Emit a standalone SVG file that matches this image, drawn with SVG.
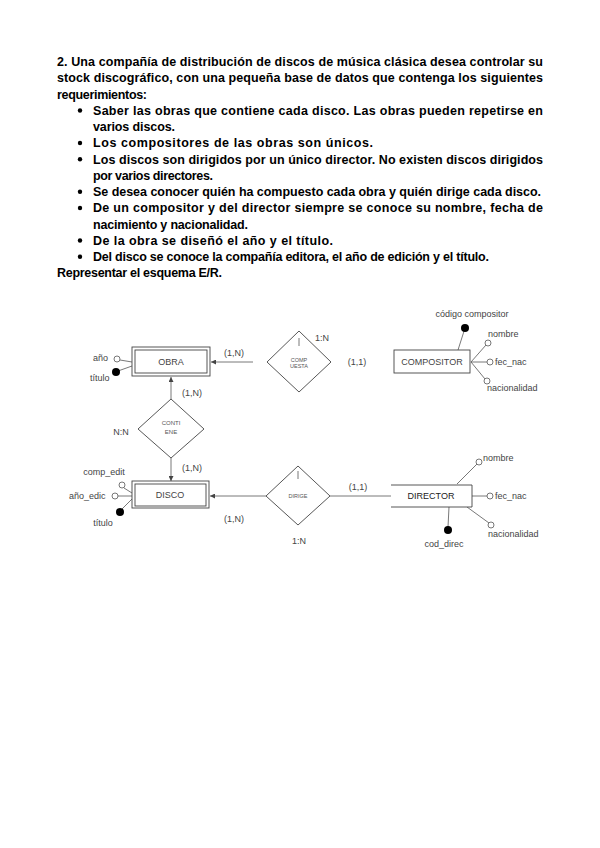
<svg xmlns="http://www.w3.org/2000/svg" width="600" height="848" viewBox="0 0 600 848">
<defs>
<style>
.t{font-family:"Liberation Sans",Arial,sans-serif;font-size:12.5px;font-weight:bold;fill:#000}
.l{font-family:"Liberation Sans",Arial,sans-serif;font-size:9px;fill:#444}
.e{font-family:"Liberation Sans",Arial,sans-serif;font-size:9px;fill:#444;text-anchor:middle}
.r{font-family:"Liberation Sans",Arial,sans-serif;font-size:5.5px;fill:#555;text-anchor:middle}
.c{text-anchor:middle}
.s{fill:#fff;stroke:#444;stroke-width:0.9}
.ln{stroke:#555;stroke-width:0.8;fill:none}
.op{fill:#fff;stroke:#555;stroke-width:0.8}
.k{fill:#000}
</style>
<marker id="ar" viewBox="0 0 6 6" refX="6" refY="3" markerWidth="5" markerHeight="5" markerUnits="userSpaceOnUse" orient="auto">
<path d="M0,0 L6,3 L0,6 z" fill="#444"/>
</marker>
</defs>
<rect width="600" height="848" fill="#fff"/>
<g id="enunciado">
<text class="t" x="57" y="66" textLength="486" lengthAdjust="spacing">2. Una compañía de distribución de discos de música clásica desea controlar su</text>
<text class="t" x="57" y="82.25" textLength="486" lengthAdjust="spacing">stock discográfico, con una pequeña base de datos que contenga los siguientes</text>
<text class="t" x="57" y="98.5" textLength="90" lengthAdjust="spacing">requerimientos:</text>
<circle class="k" cx="80" cy="110.5" r="2.2"/>
<text class="t" x="93" y="114.75" textLength="450" lengthAdjust="spacing">Saber las obras que contiene cada disco. Las obras pueden repetirse en</text>
<text class="t" x="93" y="131" textLength="82" lengthAdjust="spacing">varios discos.</text>
<circle class="k" cx="80" cy="143" r="2.2"/>
<text class="t" x="93" y="147.25" textLength="280" lengthAdjust="spacing">Los compositores de las obras son únicos.</text>
<circle class="k" cx="80" cy="159.25" r="2.2"/>
<text class="t" x="93" y="163.5" textLength="450" lengthAdjust="spacing">Los discos son dirigidos por un único director. No existen discos dirigidos</text>
<text class="t" x="93" y="179.75" textLength="120" lengthAdjust="spacing">por varios directores.</text>
<circle class="k" cx="80" cy="191.75" r="2.2"/>
<text class="t" x="93" y="196" textLength="448" lengthAdjust="spacing">Se desea conocer quién ha compuesto cada obra y quién dirige cada disco.</text>
<circle class="k" cx="80" cy="208" r="2.2"/>
<text class="t" x="93" y="212.25" textLength="450" lengthAdjust="spacing">De un compositor y del director siempre se conoce su nombre, fecha de</text>
<text class="t" x="93" y="228.5" textLength="155" lengthAdjust="spacing">nacimiento y nacionalidad.</text>
<circle class="k" cx="80" cy="240.5" r="2.2"/>
<text class="t" x="93" y="244.75" textLength="240" lengthAdjust="spacing">De la obra se diseñó el año y el título.</text>
<circle class="k" cx="80" cy="256.75" r="2.2"/>
<text class="t" x="93" y="261" textLength="396" lengthAdjust="spacing">Del disco se conoce la compañía editora, el año de edición y el título.</text>
<text class="t" x="57" y="277.25" textLength="165" lengthAdjust="spacing">Representar el esquema E/R.</text>
</g>
<g id="connectors">
<line class="ln" x1="253" y1="362" x2="211" y2="362" marker-end="url(#ar)"/>
<line class="ln" x1="171" y1="399" x2="171" y2="377" marker-end="url(#ar)"/>
<line class="ln" x1="171" y1="458" x2="171" y2="481" marker-end="url(#ar)"/>
<line class="ln" x1="266" y1="496" x2="210" y2="496" marker-end="url(#ar)"/>
<line class="ln" x1="330" y1="496" x2="391" y2="496"/>
<line class="ln" x1="120" y1="360" x2="132" y2="362"/>
<line class="ln" x1="118" y1="371" x2="132" y2="366"/>
<line class="ln" x1="465" y1="328" x2="458" y2="350"/>
<line class="ln" x1="471" y1="362" x2="486" y2="345"/>
<line class="ln" x1="471" y1="362" x2="487" y2="362"/>
<line class="ln" x1="471" y1="362" x2="485" y2="379"/>
<line class="ln" x1="124" y1="488" x2="132" y2="493"/>
<line class="ln" x1="118" y1="496" x2="132" y2="496"/>
<line class="ln" x1="121" y1="510" x2="132" y2="499"/>
<line class="ln" x1="457" y1="484" x2="477" y2="464"/>
<line class="ln" x1="472" y1="496" x2="487" y2="496"/>
<line class="ln" x1="467" y1="507" x2="489" y2="523"/>
<line class="ln" x1="449" y1="507" x2="448" y2="527"/>
</g>
<g id="obra">
<rect class="s" x="132" y="347" width="78" height="29"/>
<rect class="s" x="135" y="350" width="72" height="23"/>
<text class="e" x="171" y="365">OBRA</text>
</g>
<g id="obra-anio">
<circle class="op" cx="117" cy="359" r="3"/>
<text class="l" x="93" y="361">año</text>
</g>
<g id="obra-titulo">
<circle class="k" cx="116" cy="372" r="4"/>
<text class="l" x="90" y="381">título</text>
</g>
<g id="compuesta">
<polygon class="s" points="299,331 331,362 299,392 267,362"/>
<line class="ln" x1="299" y1="338" x2="299" y2="346"/>
<text class="r" x="299" y="362">COMP</text>
<text class="r" x="299" y="368">UESTA</text>
</g>
<g id="labels">
<text class="l c" x="234" y="356">(1,N)</text>
<text class="l c" x="322" y="341">1:N</text>
<text class="l c" x="357" y="365">(1,1)</text>
<text class="l c" x="192" y="396">(1,N)</text>
<text class="l c" x="192" y="471">(1,N)</text>
<text class="l c" x="121" y="435">N:N</text>
<text class="l c" x="234" y="522">(1,N)</text>
<text class="l c" x="299" y="544">1:N</text>
<text class="l c" x="358" y="490">(1,1)</text>
</g>
<g id="compositor">
<rect class="s" x="394" y="350" width="76" height="23"/>
<text class="e" x="432" y="365">COMPOSITOR</text>
</g>
<g id="compositor-codigo">
<circle class="k" cx="465" cy="328" r="4"/>
<text class="l c" x="472" y="317">código compositor</text>
</g>
<g id="compositor-nombre">
<text class="l" x="488" y="337">nombre</text>
<circle class="op" cx="488" cy="343" r="3"/>
</g>
<g id="compositor-fec">
<circle class="op" cx="490" cy="362" r="3"/>
<text class="l" x="495" y="365">fec_nac</text>
</g>
<g id="compositor-nac">
<text class="l" x="487" y="391">nacionalidad</text>
<circle class="op" cx="487" cy="381" r="3"/>
</g>
<g id="contiene">
<polygon class="s" points="171,399 204,429 171,458 138,429"/>
<text class="r" x="171" y="425" style="font-size:6px">CONTI</text>
<text class="r" x="171" y="434" style="font-size:6px">ENE</text>
</g>
<g id="disco">
<rect class="s" x="132" y="481" width="77" height="27"/>
<rect class="s" x="135" y="484" width="71" height="22"/>
<text class="e" x="170" y="498">DISCO</text>
</g>
<g id="disco-comp">
<circle class="op" cx="122" cy="485" r="3"/>
<text class="l c" x="104" y="475">comp_edit</text>
</g>
<g id="disco-anio">
<circle class="op" cx="115" cy="496" r="3"/>
<text class="l" x="69" y="499">año_edic</text>
</g>
<g id="disco-titulo">
<circle class="k" cx="120" cy="512" r="4"/>
<text class="l c" x="103" y="526">título</text>
</g>
<g id="dirige">
<polygon class="s" points="298,466 330,496 298,525 266,496"/>
<line class="ln" x1="298" y1="471" x2="298" y2="479"/>
<text class="r" x="298" y="498">DIRIGE</text>
</g>
<g id="director">
<path class="s" d="M391,485 H472 V507 H391"/>
<text class="e" x="431" y="499" style="fill:#222">DIRECTOR</text>
</g>
<g id="director-nombre">
<circle class="op" cx="479" cy="462" r="3"/>
<text class="l" x="483" y="461">nombre</text>
</g>
<g id="director-fec">
<circle class="op" cx="490" cy="496" r="3"/>
<text class="l" x="495" y="499">fec_nac</text>
</g>
<g id="director-nac">
<circle class="op" cx="491" cy="525" r="3"/>
<text class="l" x="488" y="537">nacionalidad</text>
</g>
<g id="director-cod">
<circle class="k" cx="448" cy="530" r="4"/>
<text class="l c" x="444" y="547">cod_direc</text>
</g>
</svg>
